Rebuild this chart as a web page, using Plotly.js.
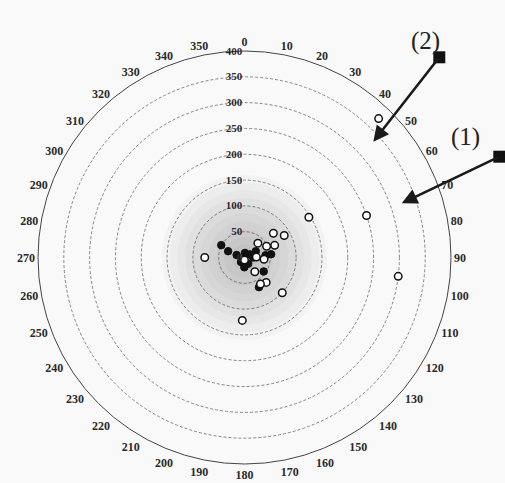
<!DOCTYPE html>
<html>
<head>
<meta charset="utf-8">
<script src="https://cdn.plot.ly/plotly-3.0.1.min.js"></script>
<style>
  html, body { margin: 0; padding: 0; background: #f9f9f9; }
  #chart { width: 505px; height: 483px; }
</style>
</head>
<body>
<div id="chart"></div>
<script>
// Open markers: distance (r) and bearing (theta, degrees clockwise from north)
const openR     = [374, 250, 300, 147, 77, 122, 100, 73, 88, 38, 48, 63, 5, 23, 38, 34, 64, 60];
const openTheta = [44, 71, 97, 58, 270, 182, 133, 50, 61, 43, 63, 68, 180, 88, 95, 144, 139, 149];

// Filled markers
const filledR     = [51, 34, 16, 9, 12, 14, 19, 52, 46, 64, 11, 17, 25, 41];
const filledTheta = [298, 291, 288, 6, 60, 149, 181, 83, 126, 154, 218, 90, 61, 84];

// Axis tick values
const radialTicks  = [0, 50, 100, 150, 200, 250, 300, 350, 400];
const angularTicks = [0, 10, 20, 30, 40, 50, 60, 70, 80, 90, 100, 110, 120, 130, 140, 150, 160, 170,
                      180, 190, 200, 210, 220, 230, 240, 250, 260, 270, 280, 290, 300, 310, 320, 330, 340, 350];

// Callout labels
const calloutLabels = ['(1)', '(2)'];

// Soft grey halo around the origin, built from stacked translucent discs
const haloRadii = [160, 145, 130, 115, 100, 85, 70, 55, 40, 25];
const traces = haloRadii.map(rr => ({
  type: 'barpolar',
  r: [rr], theta: [0], width: [360], base: 0,
  marker: { color: 'rgba(60,60,60,0.03)', line: { width: 0 } },
  hoverinfo: 'skip', showlegend: false
}));

traces.push({
  type: 'scatterpolar', mode: 'markers',
  r: filledR, theta: filledTheta,
  marker: { symbol: 'circle', size: 7.5, color: '#111', line: { color: '#111', width: 1 } },
  showlegend: false
});
traces.push({
  type: 'scatterpolar', mode: 'markers',
  r: openR, theta: openTheta,
  marker: { symbol: 'circle', size: 7.5, color: '#ffffff', line: { color: '#111', width: 1.5 } },
  showlegend: false
});

const W = 505, H = 483;
const px = x => x / W;
const py = y => 1 - y / H;

// arrow tips and tails (pixel positions on the page)
const arrow1 = { tip: [401.7, 203.3], tail: [499.3, 156.7] };
const arrow2 = { tip: [373.3, 141.7], tail: [439.3, 57.3] };

function arrowAnn(a) {
  return {
    xref: 'paper', yref: 'paper', x: px(a.tip[0]), y: py(a.tip[1]),
    axref: 'pixel', ayref: 'pixel',
    ax: a.tail[0] - a.tip[0], ay: a.tail[1] - a.tip[1],
    text: '', showarrow: true, arrowhead: 2, arrowsize: 1.2, arrowwidth: 2.6, arrowcolor: '#1a1a1a'
  };
}
function tailSquare(a) {
  return {
    type: 'rect', xref: 'paper', yref: 'paper',
    xsizemode: 'pixel', ysizemode: 'pixel',
    xanchor: px(a.tail[0]), yanchor: py(a.tail[1]),
    x0: -6, x1: 6, y0: -6, y1: 6,
    fillcolor: '#111', line: { width: 0 }
  };
}

const serif = 'Liberation Serif, DejaVu Serif, serif';

const layout = {
  width: W, height: H,
  margin: { l: 0, r: 0, t: 0, b: 0 },
  paper_bgcolor: '#f9f9f9',
  showlegend: false,
  polar: {
    domain: { x: [px(38), px(451)], y: [py(464), py(51)] },
    bgcolor: 'rgba(0,0,0,0)',
    barmode: 'overlay',
    radialaxis: {
      range: [0, 400],
      tickvals: radialTicks,
      ticktext: radialTicks.map(String),
      angle: 90,
      tickangle: 90,
      side: 'counterclockwise',
      showline: false,
      ticks: '',
      showgrid: true,
      gridcolor: '#6a6a6a',
      gridwidth: 0.8,
      griddash: '3px,2px',
      tickfont: { family: serif, size: 11, color: '#2a2a2a', weight: 'bold' }
    },
    angularaxis: {
      rotation: 90,
      direction: 'clockwise',
      tickvals: angularTicks,
      ticktext: angularTicks.map(String),
      showgrid: false,
      showline: true,
      linecolor: '#444',
      linewidth: 1,
      ticks: '',
      tickfont: { family: serif, size: 12, color: '#2a2a2a', weight: 'bold' }
    }
  },
  annotations: [
    arrowAnn(arrow1),
    arrowAnn(arrow2),
    { xref: 'paper', yref: 'paper', x: px(482), y: py(121), text: calloutLabels[0], showarrow: false,
      font: { family: serif, size: 25, color: '#222' } },
    { xref: 'paper', yref: 'paper', x: px(442), y: py(25), text: calloutLabels[1], showarrow: false,
      font: { family: serif, size: 25, color: '#222' } }
  ],
  shapes: [tailSquare(arrow1), tailSquare(arrow2)]
};

Plotly.newPlot('chart', traces, layout, { displayModeBar: false, staticPlot: true });
</script>
</body>
</html>
